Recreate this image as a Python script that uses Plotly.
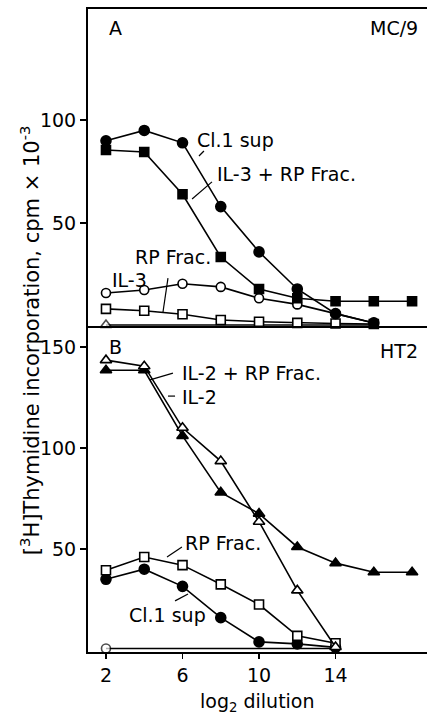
import plotly.graph_objects as go

# ---------------- data ----------------
dilution = [2, 4, 6, 8, 10, 12, 14, 16, 18]

# Panel A (MC/9)
a_cl1_sup = [90, 95, 89, 58, 36, 18, 6, 1.5]
a_il3_rp = [85.5, 84.5, 64, 33.5, 18, 13.5, 12, 12, 12]
a_rp_frac = [16, 17.5, 20.5, 19, 13.5, 10.5, 6, 1.5]
a_il3 = [8.3, 7.4, 5.7, 2.9, 2.1, 1.5, 1.2, 1.0]
a_medium_x = [2, 16]
a_medium = [0.5, 0.5]

# Panel B (HT2)
b_il2 = [143.5, 140.5, 110, 93.5, 63.5, 29.5, 1.5]
b_il2_rp = [138.5, 138.5, 106, 78, 67.5, 51, 43, 38.5, 38.5]
b_rp_frac = [39.5, 46, 42, 32.5, 22.5, 7, 3.3]
b_cl1_sup = [35, 40, 31.5, 16, 4, 3, 1.3]
b_medium_x = [2, 14]
b_medium = [0.7, 0.7]

x_ticks = [2, 6, 10, 14]
a_ticks = [50, 100]
b_ticks = [50, 100, 150]

FONT = "DejaVu Sans"
FS = 19
LW = 1.6

fig = go.Figure()


def add(xv, yv, symbol, filled, panel, size=10, sizes=None):
    xa, ya = ("x2", "y2") if panel == "A" else ("x", "y")
    fig.add_trace(go.Scatter(
        x=xv, y=yv, mode="lines+markers", xaxis=xa, yaxis=ya,
        line=dict(color="black", width=LW),
        marker=dict(symbol=symbol, size=sizes if sizes else size,
                    color="black" if filled else "white",
                    line=dict(color="black", width=1.6)),
        showlegend=False, cliponaxis=False, hoverinfo="skip",
    ))


# Panel A
add(a_medium_x, a_medium, "triangle-up", False, "A", sizes=[10, 0])
add(dilution[:len(a_il3)], a_il3, "square", False, "A", size=9)
add(dilution[:len(a_rp_frac)], a_rp_frac, "circle", False, "A", size=9)
add(dilution[:len(a_il3_rp)], a_il3_rp, "square", True, "A", size=9)
add(dilution[:len(a_cl1_sup)], a_cl1_sup, "circle", True, "A", size=10)

# Panel B
add(b_medium_x, b_medium, "circle", False, "B", sizes=[9, 0])
add(dilution[:len(b_cl1_sup)], b_cl1_sup, "circle", True, "B", size=10)
add(dilution[:len(b_rp_frac)], b_rp_frac, "square", False, "B", size=9)
add(dilution[:len(b_il2_rp)], b_il2_rp, "triangle-up", True, "B", size=10)
add(dilution[:len(b_il2)], b_il2, "triangle-up", False, "B", size=10)

xr = [1.06, 18.78]
axis_common = dict(showgrid=False, zeroline=False, showline=True,
                   linecolor="black", linewidth=2,
                   tickfont=dict(family=FONT, size=FS, color="black"))

fig.update_layout(
    width=427, height=716,
    margin=dict(l=88, r=0, t=9, b=64),
    paper_bgcolor="white", plot_bgcolor="white",
    font=dict(family=FONT, size=FS, color="black"),
    xaxis=dict(range=xr, domain=[0, 1], anchor="y", tickvals=x_ticks,
               ticks="outside", ticklen=5, tickwidth=1.5, tickcolor="black",
               **axis_common),
    yaxis=dict(range=[-1, 160.4], domain=[0, 0.507], anchor="x",
               tickvals=b_ticks, ticks="outside", ticklen=6, tickwidth=1.5,
               tickcolor="black", **axis_common),
    xaxis2=dict(range=xr, domain=[0, 1], anchor="y2", showticklabels=False,
                ticks="", mirror=True, **axis_common),
    yaxis2=dict(range=[0, 154], domain=[0.507, 1], anchor="x2",
                tickvals=a_ticks, ticks="outside", ticklen=6, tickwidth=1.5,
                tickcolor="black", **axis_common),
)


def label(text, x, y, panel, xanchor="left"):
    xa, ya = ("x2", "y2") if panel == "A" else ("x", "y")
    fig.add_annotation(text=text, x=x, y=y, xref=xa, yref=ya,
                       xanchor=xanchor, yanchor="middle", showarrow=False,
                       font=dict(family=FONT, size=FS, color="black"))


def leader(x0, y0, x1, y1, panel):
    xa, ya = ("x2", "y2") if panel == "A" else ("x", "y")
    fig.add_shape(type="line", x0=x0, y0=y0, x1=x1, y1=y1, xref=xa, yref=ya,
                  line=dict(color="black", width=1.2))


# Panel A labels
label("A", 2.05, 144.8, "A")
label("MC/9", 18.4, 144.8, "A", xanchor="right")
label("Cl.1 sup", 6.65, 90.4, "A")
leader(6.86, 82.6, 7.12, 85.0, "A")
label("IL-3 + RP Frac.", 7.70, 73.9, "A")
leader(6.50, 61.7, 7.54, 70.0, "A")
label("RP Frac.", 3.41, 33.5, "A")
label("IL-3", 2.21, 22.4, "A")
leader(5.24, 23.3, 4.98, 6.8, "A")

# Panel B labels
label("B", 2.05, 150, "B")
label("HT2", 18.4, 148, "B", xanchor="right")
label("IL-2 + RP Frac.", 5.87, 137.1, "B")
leader(4.30, 133.7, 5.50, 137.1, "B")
label("IL-2", 5.87, 125.2, "B")
leader(5.24, 125.7, 5.61, 125.7, "B")
label("RP Frac.", 6.03, 53, "B")
leader(5.19, 46, 5.97, 51, "B")
label("Cl.1 sup", 3.10, 17.3, "B")
leader(5.61, 24.3, 6.29, 27.7, "B")

# Axis titles
fig.add_annotation(text="[<sup>3</sup>H]Thymidine incorporation, cpm × 10<sup>-3</sup>",
                   xref="paper", yref="paper", x=-0.171, y=0.485,
                   textangle=-90, showarrow=False, xanchor="center", yanchor="middle",
                   font=dict(family=FONT, size=21, color="black"))
fig.add_annotation(text="log<sub>2</sub> dilution", xref="paper", yref="paper",
                   x=0.501, y=-0.079, showarrow=False, xanchor="center",
                   yanchor="middle", font=dict(family=FONT, size=FS, color="black"))

fig.write_html("out.html", config={"displayModeBar": False, "staticPlot": True})

# remove the default page margin so the figure fills the window exactly
with open("out.html", "r", encoding="utf-8") as f:
    html = f.read()
html = html.replace("<head>", "<head><style>html,body{margin:0;padding:0;overflow:hidden;}</style>", 1)
with open("out.html", "w", encoding="utf-8") as f:
    f.write(html)
